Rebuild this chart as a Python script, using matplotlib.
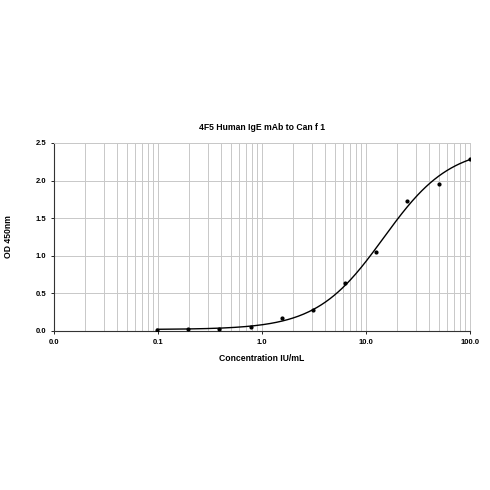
import numpy as np
import matplotlib
matplotlib.use("Agg")
import matplotlib.pyplot as plt
from matplotlib.ticker import FixedLocator, LogLocator, NullFormatter

plt.rcParams['font.family'] = ['Liberation Sans', 'DejaVu Sans']

# measured standards
conc = [0.098, 0.195, 0.39, 0.78, 1.56, 3.125, 6.25, 12.5, 25, 50, 100]
od = [0.01, 0.022, 0.027, 0.057, 0.168, 0.275, 0.642, 1.055, 1.733, 1.96, 2.287]

# 4PL fit parameters
fit_bottom = 0.02
fit_top = 2.45
fit_ec50 = 14.7
fit_slope = 1.35

x_ticks = [0.01, 0.1, 1, 10, 100]
x_tick_labels = ["0.0", "0.1", "1.0", "10.0", "100.0"]
y_ticks = [0.0, 0.5, 1.0, 1.5, 2.0, 2.5]
y_tick_labels = ["0.0", "0.5", "1.0", "1.5", "2.0", "2.5"]


def four_pl(x):
    return fit_top + (fit_bottom - fit_top) / (1 + (x / fit_ec50) ** fit_slope)


fig = plt.figure(figsize=(4.9, 4.9), dpi=100)
ax = fig.add_axes([0.1102, 0.3245, 0.849, 0.3837])

xs = np.logspace(np.log10(conc[0]), np.log10(conc[-1]), 300)
ax.plot(xs, four_pl(xs), color='black', lw=1.0, zorder=3)
ax.plot(conc, od, 'o', color='black', ms=2.0, zorder=4)

ax.set_xscale('log')
ax.set_xlim(0.01, 100)
ax.set_ylim(0, 2.5)

ax.xaxis.set_major_locator(FixedLocator(x_ticks))
ax.set_xticklabels(x_tick_labels)
ax.xaxis.set_minor_locator(LogLocator(base=10, subs=np.arange(2, 10)))
ax.xaxis.set_minor_formatter(NullFormatter())
ax.set_yticks(y_ticks)
ax.set_yticklabels(y_tick_labels)

ax.grid(True, which='both', axis='x', color='#c8c8c8', lw=0.7)
ax.grid(True, which='major', axis='y', color='#c8c8c8', lw=0.7)
ax.set_axisbelow(True)

for side in ['top', 'right']:
    ax.spines[side].set_color('#c8c8c8')
    ax.spines[side].set_linewidth(0.7)
for side in ['left', 'bottom']:
    ax.spines[side].set_color('#333333')
    ax.spines[side].set_linewidth(0.8)

ax.tick_params(axis='both', which='major', length=2.5, width=0.6,
               labelsize=5.5, pad=3)
ax.tick_params(axis='x', which='minor', length=0)
for lbl in ax.get_xticklabels() + ax.get_yticklabels():
    lbl.set_fontweight('bold')

ax.set_title("4F5 Human IgE mAb to Can f 1", fontsize=6.2, fontweight='bold',
             y=1.06, pad=1)
ax.set_xlabel("Concentration IU/mL", fontsize=6.2, fontweight='bold')
ax.set_ylabel("OD 450nm", fontsize=6.2, fontweight='bold')
ax.xaxis.set_label_coords(0.5, -0.122)
ax.yaxis.set_label_coords(-0.099, 0.5)

fig.savefig("out.png", dpi=100)
